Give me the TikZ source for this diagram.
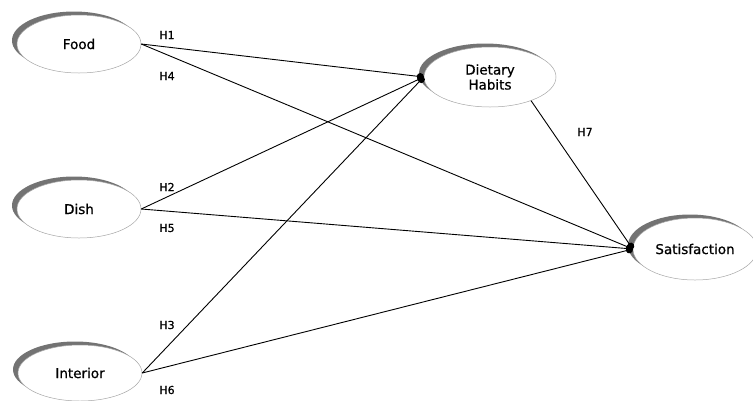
\documentclass[tikz,border=0pt]{standalone}
\usepackage{fontspec}
\setmainfont{DejaVu Sans}
\newfontfamily\labfont{DejaVu Sans}[FakeBold=0.7]
\usetikzlibrary{shapes.geometric,shadows,arrows.meta}
\begin{document}
\begin{tikzpicture}[x=1pt,y=-1pt,
  construct/.style={ellipse, draw=gray!70, line width=0.5pt, fill=white, inner sep=0pt,
    minimum width=124pt, minimum height=58pt, align=center,
    font=\labfont\fontsize{13.5}{15}\selectfont,
    drop shadow={shadow xshift=-5pt, shadow yshift=3.5pt, fill=black!55, opacity=1}},
  link/.style={draw=black, line width=0.9pt, -{Circle[length=7pt]}},
  hlab/.style={font=\labfont\fontsize{11}{12}\selectfont, inner sep=0pt}
]
\useasboundingbox (0,0) rectangle (753,400);

\node[construct] (food) at (79,44) {Food};
\node[construct] (dish) at (79,209) {Dish};
\node[construct, minimum height=56pt] (interior) at (80,373) {Interior};
\node[construct, minimum width=132pt, minimum height=60pt] (diet) at (490,77) {Dietary\\Habits};
\node[construct, minimum height=62pt] (sat) at (695,249) {Satisfaction};

\draw[link] (food.east) -- (diet.west);
\draw[link] (food.east) -- (sat.west);
\draw[link] (dish.east) -- (diet.west);
\draw[link] (dish.east) -- (sat.west);
\draw[link] (interior.east) -- (diet.west);
\draw[link] (interior.east) -- (sat.west);
\draw[link] (diet.330) -- (sat.west);

\node[hlab] (h1) at (167,35) {H1};
\node[hlab] (h4) at (167,76) {H4};
\node[hlab] (h2) at (167,187) {H2};
\node[hlab] (h5) at (167,228) {H5};
\node[hlab] (h3) at (167,325) {H3};
\node[hlab] (h6) at (167,390) {H6};
\node[hlab] (h7) at (585,132) {H7};
\end{tikzpicture}
\end{document}
